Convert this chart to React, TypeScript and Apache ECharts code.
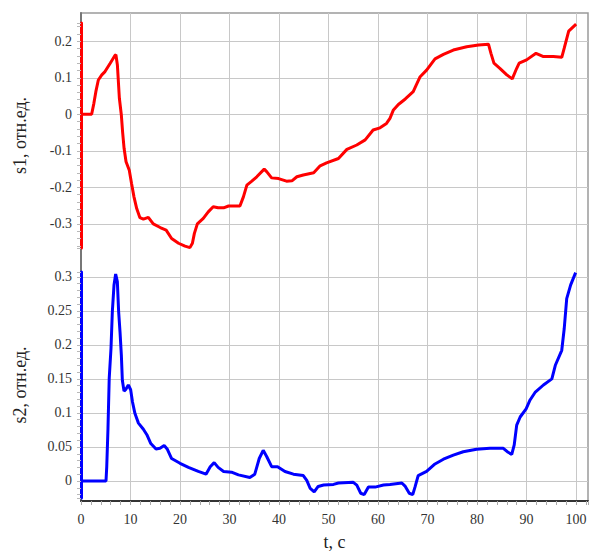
import React, { useEffect, useRef } from "react";
import * as echarts from "echarts";

// s1 (red) points: [t, value]
const s1Data: [number, number][] = [
  [0, 0], [2.15, 0], [2.6, 0.03], [3.0, 0.062], [3.5, 0.094], [4.2, 0.108], [4.85, 0.117],
  [5.9, 0.14], [6.85, 0.161], [7.05, 0.163], [7.35, 0.135], [7.75, 0.044], [8.15, -0.002],
  [8.4, -0.048], [8.7, -0.093], [9.1, -0.13], [9.75, -0.153], [10.2, -0.189], [10.7, -0.226],
  [11.25, -0.258], [11.9, -0.283], [12.6, -0.287], [13.6, -0.282], [14.6, -0.3], [16.0, -0.31],
  [17.2, -0.317], [18.3, -0.34], [19.7, -0.353], [21.0, -0.361], [22.0, -0.365], [22.5, -0.353],
  [22.9, -0.326], [23.5, -0.3], [24.7, -0.285], [25.7, -0.267], [26.7, -0.253], [27.7, -0.256],
  [28.8, -0.256], [29.8, -0.251], [32.1, -0.251], [32.8, -0.226], [33.5, -0.194], [34.5, -0.183],
  [35.5, -0.171], [37.0, -0.15], [37.5, -0.157], [38.5, -0.174], [39.9, -0.176], [41.5, -0.183],
  [42.6, -0.182], [43.6, -0.171], [44.9, -0.166], [47.0, -0.16], [48.3, -0.141], [49.6, -0.133],
  [52.0, -0.121], [53.7, -0.096], [55.7, -0.084], [57.4, -0.07], [59.0, -0.043], [60.4, -0.037],
  [61.7, -0.025], [62.4, -0.011], [63.1, 0.012], [64.1, 0.027], [65.5, 0.042], [67.1, 0.062],
  [67.7, 0.08], [68.5, 0.103], [69.8, 0.121], [71.5, 0.152], [73.2, 0.164], [75.2, 0.176],
  [77.9, 0.185], [80.3, 0.19], [82.3, 0.192], [82.8, 0.167], [83.4, 0.14], [84.6, 0.126],
  [86.0, 0.108], [87.1, 0.097], [88.0, 0.126], [88.5, 0.14], [90.0, 0.149], [91.9, 0.167],
  [93.4, 0.158], [95.4, 0.158], [97.1, 0.156], [97.6, 0.181], [98.5, 0.228], [100, 0.247]
];

// s2 (blue) points: [t, value]
const s2Data: [number, number][] = [
  [0, 0], [5.05, 0], [5.2, 0.021], [5.45, 0.077], [5.7, 0.151], [6.06, 0.195], [6.33, 0.249],
  [6.67, 0.288], [7.0, 0.304], [7.34, 0.293], [7.6, 0.249], [7.88, 0.219], [8.15, 0.185],
  [8.35, 0.148], [8.69, 0.132], [9.09, 0.135], [9.56, 0.141], [10.03, 0.134], [10.4, 0.116],
  [10.9, 0.099], [11.6, 0.085], [12.6, 0.076], [13.3, 0.068], [14.1, 0.055], [15.15, 0.047],
  [15.96, 0.048], [16.8, 0.052], [17.4, 0.047], [18.3, 0.033], [20, 0.026], [21.7, 0.02],
  [23.7, 0.014], [25.25, 0.01], [26.1, 0.021], [26.9, 0.027], [27.7, 0.02], [28.8, 0.014],
  [30.4, 0.013], [31.8, 0.009], [34.1, 0.005], [35.1, 0.01], [36.0, 0.033], [36.8, 0.045],
  [37.5, 0.036], [38.5, 0.021], [39.7, 0.021], [41.2, 0.014], [42.9, 0.01], [44.9, 0.008],
  [45.6, 0.001], [46.3, -0.011], [47.1, -0.016], [47.9, -0.008], [49, -0.006], [51, -0.005],
  [52, -0.003], [55, -0.002], [55.7, -0.006], [56.5, -0.018], [57.2, -0.02], [58.05, -0.009],
  [59.4, -0.009], [61.1, -0.006], [62.4, -0.005], [64.8, -0.003], [65.5, -0.008], [66.3, -0.018],
  [67, -0.02], [67.5, -0.008], [68.1, 0.008], [69.8, 0.014], [71.5, 0.025], [73.2, 0.032],
  [75.2, 0.038], [77.2, 0.043], [79.9, 0.0465], [82.6, 0.048], [85.3, 0.048], [86.1, 0.043],
  [87, 0.039], [87.5, 0.053], [88, 0.082], [88.7, 0.094], [89.9, 0.106], [90.7, 0.119],
  [91.7, 0.13], [93.4, 0.141], [95.1, 0.15], [95.8, 0.17], [97.1, 0.192], [97.6, 0.224],
  [98.1, 0.268], [98.9, 0.288], [99.9, 0.306]
];

const xRange = [0, 102.4];
const s1Range = [-0.366, 0.25];
const s2Range = [-0.025, 0.307];
const xLabelStep = 10;
const xTickStep = 2;
const s1LabelStep = 0.1;
const s1TickStep = 0.02;
const s2LabelStep = 0.05;
const s2TickStep = 0.01;

const FONT = "Liberation Serif";
const GRID_LEFT = 81;
const GRID_W = 507;

const isMultiple = (v: number, step: number) => Math.abs(v / step - Math.round(v / step)) < 1e-6;
const fmt = (v: number) => String(+v.toFixed(3));

function panelAxes(gridIndex: number, range: number[], labelStep: number, tickStep: number, color: string, name: string) {
  return [
    {
      gridIndex,
      type: "value",
      position: "left",
      min: range[0],
      max: range[1],
      minInterval: tickStep,
      maxInterval: tickStep,
      axisLine: { show: true, onZero: false, lineStyle: { color, width: 3 } },
      axisTick: { show: true, length: 4, lineStyle: { color: "#b8b8b8", width: 1 } },
      axisLabel: {
        show: true,
        margin: 9,
        fontFamily: FONT,
        fontSize: 14,
        color: "#333",
        showMinLabel: true,
        showMaxLabel: true,
        formatter: (v: number) => (isMultiple(v, labelStep) ? fmt(v) : ""),
      },
      splitLine: { show: false },
      name,
      nameLocation: "middle",
      nameGap: 52,
      nameTextStyle: { fontFamily: FONT, fontSize: 18, color: "#222" },
    },
    {
      gridIndex,
      type: "value",
      position: "right",
      min: range[0],
      max: range[1],
      minInterval: labelStep,
      maxInterval: labelStep,
      axisLine: { show: false },
      axisTick: { show: false },
      axisLabel: { show: false },
      splitLine: { show: true, showMinLine: false, showMaxLine: false, lineStyle: { color: "#c8c8c8", width: 1 } },
    },
  ];
}

export default function App() {
  const ref = useRef<HTMLDivElement>(null);
  useEffect(() => {
    if (!ref.current) return;
    const chart = echarts.init(ref.current, undefined, { renderer: "svg" });
    const option = {
      animation: false,
      backgroundColor: "#ffffff",
      textStyle: { fontFamily: FONT },
      grid: [
        { left: GRID_LEFT, top: 13, width: GRID_W, height: 496, show: true, borderColor: "#9a9a9a", borderWidth: 1.5, backgroundColor: "transparent" },
        { left: GRID_LEFT, top: 23, width: GRID_W, height: 225 },
        { left: GRID_LEFT, top: 272, width: GRID_W, height: 226 },
      ],
      xAxis: [
        {
          gridIndex: 0,
          type: "value",
          position: "bottom",
          min: xRange[0],
          max: xRange[1],
          interval: xTickStep,
          axisLine: { show: true, onZero: false, lineStyle: { color: "#333", width: 2 } },
          axisTick: { show: true, length: 4, lineStyle: { color: "#a8a8a8", width: 1 } },
          axisLabel: {
            margin: 11,
            fontFamily: FONT,
            fontSize: 14,
            color: "#333",
            formatter: (v: number) => (isMultiple(v, xLabelStep) && v <= 100 ? fmt(v) : ""),
          },
          splitLine: { show: false },
          name: "t, c",
          nameLocation: "middle",
          nameGap: 32,
          nameTextStyle: { fontFamily: FONT, fontSize: 18, color: "#222" },
        },
        {
          gridIndex: 0,
          type: "value",
          position: "top",
          min: xRange[0],
          max: xRange[1],
          interval: xLabelStep,
          axisLine: { show: false },
          axisTick: { show: false },
          axisLabel: { show: false },
          splitLine: { show: true, showMinLine: false, showMaxLine: false, lineStyle: { color: "#c8c8c8", width: 1 } },
        },
        { gridIndex: 1, type: "value", min: xRange[0], max: xRange[1], show: false },
        { gridIndex: 2, type: "value", min: xRange[0], max: xRange[1], show: false },
      ],
      yAxis: [
        {
          gridIndex: 0,
          type: "value",
          min: 0,
          max: 1,
          axisLine: { show: true, lineStyle: { color: "#777", width: 2 } },
          axisTick: { show: false },
          axisLabel: { show: false },
          splitLine: { show: false },
        },
        ...panelAxes(1, s1Range, s1LabelStep, s1TickStep, "#ff0000", "s1, отн.ед."),
        ...panelAxes(2, s2Range, s2LabelStep, s2TickStep, "#0000ff", "s2, отн.ед."),
      ],
      series: [
        {
          type: "line",
          xAxisIndex: 2,
          yAxisIndex: 1,
          data: s1Data,
          showSymbol: false,
          symbol: "none",
          lineStyle: { color: "#ff0000", width: 3 },
          z: 5,
        },
        {
          type: "line",
          xAxisIndex: 3,
          yAxisIndex: 3,
          data: s2Data,
          showSymbol: false,
          symbol: "none",
          lineStyle: { color: "#0000ff", width: 3 },
          z: 5,
        },
      ],
    };
    chart.setOption(option as any);
    return () => chart.dispose();
  }, []);
  return (
    <div
      ref={ref}
      style={{ position: "fixed", left: 0, top: 0, width: 592, height: 556 }}
    />
  );
}
